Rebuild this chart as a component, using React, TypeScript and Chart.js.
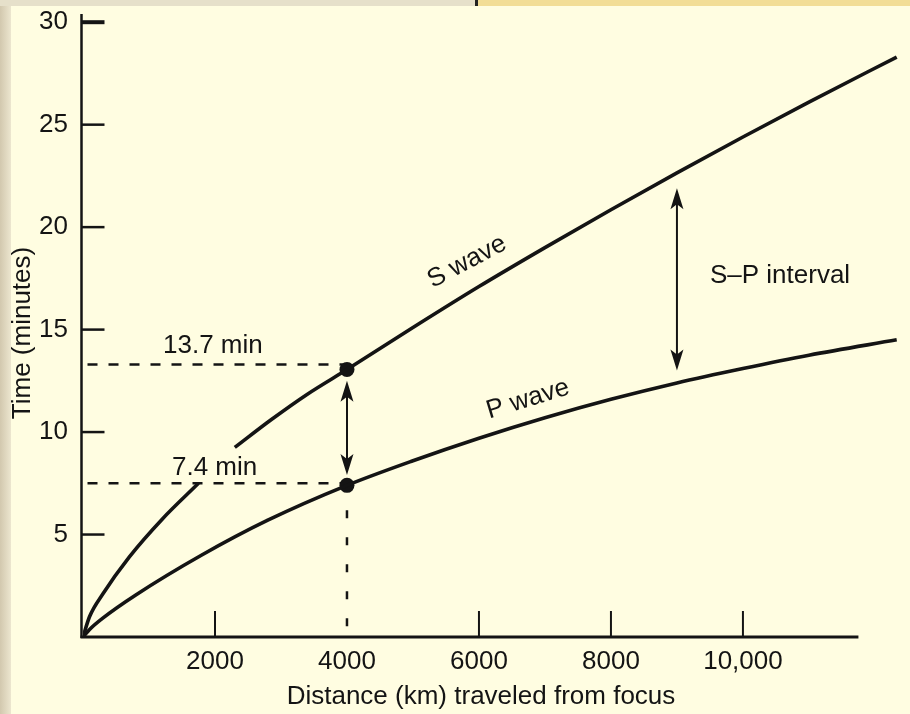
import React, { useEffect, useRef } from "react";
import { Chart, registerables } from "chart.js";

Chart.register(...registerables);

// ---- data ----
const sWaveDistances = [0, 100, 300, 700, 1200, 1750, 2000, 2300, 2850, 3400, 4000, 5000, 6000, 7000, 8000, 9000, 10000, 11000, 12330];
const sWaveMinutes: (number | null)[] = [0, 1.0, 2.1, 3.9, 5.75, 7.5, null, 9.25, 10.6, 11.85, 13.05, 15.1, 17.1, 19.0, 20.85, 22.65, 24.4, 26.1, 28.3];

const pWaveDistances = [0, 100, 300, 800, 1800, 2800, 4000, 5000, 6000, 7000, 8000, 9000, 10000, 11000, 12330];
const pWaveMinutes = [0, 0.37, 0.92, 2.05, 4.0, 5.7, 7.4, 8.6, 9.7, 10.7, 11.6, 12.4, 13.1, 13.75, 14.5];

const xTickValues = [2000, 4000, 6000, 8000, 10000];
const xTickLabels = ["2000", "4000", "6000", "8000", "10,000"];
const xTickMarkValues = [2000, 6000, 8000, 10000];
const yTickValues = [5, 10, 15, 20, 25, 30];
const yTickLabels = ["5", "10", "15", "20", "25", "30"];

const markerDistance = 4000;
const markerMinutes = [13.05, 7.4];
const readingLevels = [13.3, 7.5];
const readingLabelText = ["13.7 min", "7.4 min"];
const readingLabelX = [1212, 1348];
const readingLabelY = [13.85, 7.9];

const arrowDistances = [4000, 9000];
const arrowTopMinutes = [12.5, 21.9];
const arrowBottomMinutes = [7.9, 13.0];

const curveLabelText = ["S wave", "P wave"];
const curveLabelX = [5818, 6742];
const curveLabelY = [18.3, 11.6];
const curveLabelAngle = [-28, -17];

const intervalLabelText = "S–P interval";
const intervalLabelX = 9500;
const intervalLabelY = 17.27;

const xAxisEnd = 11750;
const xTitle = "Distance (km) traveled from focus";
const yTitle = "Time (minutes)";

const FONT = '"Liberation Sans", Arial, Helvetica, sans-serif';
const INK = "#141414";

function arrowHead(ctx: CanvasRenderingContext2D, x: number, tipY: number, dir: number) {
  const len = 21;
  const half = 6.5;
  ctx.beginPath();
  ctx.moveTo(x, tipY);
  ctx.lineTo(x - half, tipY + dir * len);
  ctx.lineTo(x, tipY + dir * (len - 5));
  ctx.lineTo(x + half, tipY + dir * len);
  ctx.closePath();
  ctx.fill();
}

const decorPlugin = {
  id: "decor",
  beforeDraw(chart: any) {
    const ctx: CanvasRenderingContext2D = chart.ctx;
    const W = chart.width;
    const H = chart.height;
    ctx.save();
    ctx.fillStyle = "#FFFDE1";
    ctx.fillRect(0, 0, W, H);
    const g = ctx.createLinearGradient(0, 0, 11, 0);
    g.addColorStop(0, "#D2C8AE");
    g.addColorStop(1, "#ECE6CF");
    ctx.fillStyle = g;
    ctx.fillRect(0, 0, 11, H);
    ctx.fillStyle = "#E6E0CA";
    ctx.fillRect(0, 0, 476, 6);
    ctx.fillStyle = "#F2DD96";
    ctx.fillRect(478, 0, W - 478, 6);
    ctx.fillStyle = "#222";
    ctx.fillRect(475, 0, 3, 6);
    ctx.restore();
  },
  beforeDatasetsDraw(chart: any) {
    const ctx: CanvasRenderingContext2D = chart.ctx;
    const xs = chart.scales.x;
    const ys = chart.scales.y;
    const x0 = xs.getPixelForValue(0) - 1.5;
    const y0 = ys.getPixelForValue(0);
    ctx.save();
    ctx.strokeStyle = INK;
    ctx.lineCap = "butt";
    // axes
    ctx.lineWidth = 2.5;
    ctx.beginPath();
    ctx.moveTo(x0, y0 + 1);
    ctx.lineTo(x0, chart.chartArea.top);
    ctx.stroke();
    ctx.lineWidth = 3;
    ctx.beginPath();
    ctx.moveTo(x0 - 1, y0);
    ctx.lineTo(xs.getPixelForValue(xAxisEnd), y0);
    ctx.stroke();
    // y tick marks (inward)
    yTickValues.forEach((v, i) => {
      const y = ys.getPixelForValue(v);
      ctx.lineWidth = i === yTickValues.length - 1 ? 4 : 2.5;
      ctx.beginPath();
      ctx.moveTo(x0, y);
      ctx.lineTo(x0 + 23, y);
      ctx.stroke();
    });
    // x tick marks (upward)
    ctx.lineWidth = 2;
    xTickMarkValues.forEach((v) => {
      const x = xs.getPixelForValue(v);
      ctx.beginPath();
      ctx.moveTo(x, y0);
      ctx.lineTo(x, y0 - 26);
      ctx.stroke();
    });
    // dashed reading lines
    const xm = xs.getPixelForValue(markerDistance);
    ctx.lineWidth = 2.5;
    ctx.setLineDash([10, 11]);
    readingLevels.forEach((lv) => {
      const y = ys.getPixelForValue(lv);
      ctx.beginPath();
      ctx.moveTo(x0 + 6, y);
      ctx.lineTo(xm, y);
      ctx.stroke();
    });
    ctx.setLineDash([8, 19]);
    ctx.beginPath();
    ctx.moveTo(xm, ys.getPixelForValue(readingLevels[1]));
    ctx.lineTo(xm, y0);
    ctx.stroke();
    ctx.setLineDash([]);
    ctx.restore();
  },
  afterDatasetsDraw(chart: any) {
    const ctx: CanvasRenderingContext2D = chart.ctx;
    const xs = chart.scales.x;
    const ys = chart.scales.y;
    ctx.save();
    ctx.strokeStyle = INK;
    ctx.fillStyle = INK;
    // double arrows
    arrowDistances.forEach((d, i) => {
      const x = xs.getPixelForValue(d);
      const yt = ys.getPixelForValue(arrowTopMinutes[i]);
      const yb = ys.getPixelForValue(arrowBottomMinutes[i]);
      ctx.lineWidth = 2;
      ctx.beginPath();
      ctx.moveTo(x, yt + 8);
      ctx.lineTo(x, yb - 8);
      ctx.stroke();
      arrowHead(ctx, x, yt, 1);
      arrowHead(ctx, x, yb, -1);
    });
    // labels
    ctx.font = `26px ${FONT}`;
    ctx.textAlign = "left";
    ctx.textBaseline = "alphabetic";
    readingLabelText.forEach((t, i) => {
      ctx.fillText(t, xs.getPixelForValue(readingLabelX[i]), ys.getPixelForValue(readingLabelY[i]));
    });
    ctx.fillText(intervalLabelText, xs.getPixelForValue(intervalLabelX), ys.getPixelForValue(intervalLabelY));
    ctx.textAlign = "center";
    ctx.textBaseline = "middle";
    curveLabelText.forEach((t, i) => {
      ctx.save();
      ctx.translate(xs.getPixelForValue(curveLabelX[i]), ys.getPixelForValue(curveLabelY[i]));
      ctx.rotate((curveLabelAngle[i] * Math.PI) / 180);
      ctx.fillText(t, 0, 0);
      ctx.restore();
    });
    // axis titles
    ctx.font = `26px ${FONT}`;
    ctx.fillText(xTitle, 481, 697);
    ctx.save();
    ctx.translate(23, 333);
    ctx.rotate(-Math.PI / 2);
    ctx.fillText(yTitle, 0, 0);
    ctx.restore();
    ctx.restore();
  },
};

export default function App() {
  const canvasRef = useRef<HTMLCanvasElement | null>(null);

  useEffect(() => {
    if (!canvasRef.current) return;
    Chart.defaults.font.family = FONT;
    const chart = new Chart(canvasRef.current, {
      type: "line",
      data: {
        datasets: [
          {
            label: "S wave",
            data: sWaveDistances.map((x, i) => ({ x, y: sWaveMinutes[i] })) as any,
            borderColor: INK,
            borderWidth: 3.6,
            pointRadius: 0,
            cubicInterpolationMode: "monotone",
            spanGaps: false,
          },
          {
            label: "P wave",
            data: pWaveDistances.map((x, i) => ({ x, y: pWaveMinutes[i] })),
            borderColor: INK,
            borderWidth: 3.6,
            pointRadius: 0,
            cubicInterpolationMode: "monotone",
          },
          {
            label: "Readings",
            data: markerMinutes.map((y) => ({ x: markerDistance, y })),
            showLine: false,
            pointRadius: 7.5,
            pointBackgroundColor: INK,
            pointBorderWidth: 0,
            borderColor: INK,
          },
        ],
      },
      options: {
        animation: false,
        responsive: false,
        devicePixelRatio: 1,
        layout: { padding: { left: 0, right: 10, top: 14, bottom: 0 } },
        plugins: { legend: { display: false }, tooltip: { enabled: false } },
        scales: {
          x: {
            type: "linear",
            min: 0,
            max: 12380,
            afterBuildTicks: (s: any) => {
              s.ticks = xTickValues.map((value) => ({ value }));
            },
            afterFit: (s: any) => {
              s.height = 77;
            },
            grid: { display: false, drawTicks: true, tickLength: 12 },
            border: { display: false },
            ticks: {
              autoSkip: false,
              maxRotation: 0,
              padding: 0,
              color: INK,
              font: { size: 26, lineHeight: 1 },
              callback: (v: any) => {
                const i = xTickValues.indexOf(Number(v));
                return i >= 0 ? xTickLabels[i] : "";
              },
            },
          },
          y: {
            type: "linear",
            min: 0,
            max: 30.4,
            afterBuildTicks: (s: any) => {
              s.ticks = yTickValues.map((value) => ({ value }));
            },
            afterFit: (s: any) => {
              s.width = 83;
            },
            grid: { display: false, drawTicks: true, tickLength: 15 },
            border: { display: false },
            ticks: {
              padding: 0,
              color: INK,
              font: { size: 26, lineHeight: 1 },
              callback: (v: any) => {
                const i = yTickValues.indexOf(Number(v));
                return i >= 0 ? yTickLabels[i] : "";
              },
            },
          },
        },
      },
      plugins: [decorPlugin],
    });
    return () => chart.destroy();
  }, []);

  return (
    <div style={{ position: "fixed", left: 0, top: 0, width: 910, height: 714 }}>
      <canvas ref={canvasRef} width={910} height={714} style={{ display: "block" }} />
    </div>
  );
}
